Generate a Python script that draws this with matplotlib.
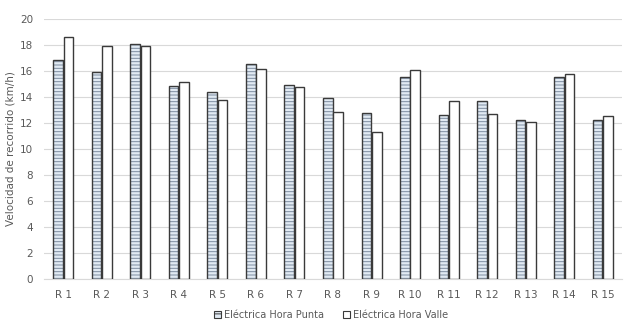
import numpy as np
import matplotlib
matplotlib.use("Agg")
import matplotlib.pyplot as plt
from matplotlib.patches import Patch

routes = ["R 1", "R 2", "R 3", "R 4", "R 5", "R 6", "R 7", "R 8",
          "R 9", "R 10", "R 11", "R 12", "R 13", "R 14", "R 15"]
punta = [16.85, 15.95, 18.05, 14.82, 14.36, 16.54, 14.95, 13.95,
         12.77, 15.54, 12.64, 13.67, 12.2, 15.51, 12.2]
valle = [18.64, 17.9, 17.92, 15.15, 13.77, 16.18, 14.74, 12.82,
         11.33, 16.08, 13.72, 12.72, 12.05, 15.74, 12.51]
yticks = list(range(0, 21, 2))

text_color = "#595959"
edge_color = "#3a3a3a"
hatch_color = "#7d8ca0"
face_punta = "#e1eaf3"

plt.rcParams["hatch.linewidth"] = 0.7

fig = plt.figure(figsize=(6.38, 3.29), dpi=100)
ax = fig.add_axes([44 / 638, 1 - 279 / 329, 578 / 638, 260 / 329])

x = np.arange(len(routes))
w = 0.25
off = 0.135

# hatched fill first, then the dark outline on top
ax.bar(x - off, punta, w, color=face_punta, edgecolor=hatch_color,
       hatch="-----", linewidth=0, zorder=2)
ax.bar(x - off, punta, w, facecolor="none", edgecolor=edge_color,
       linewidth=1.0, zorder=3)
ax.bar(x + off, valle, w, color="white", edgecolor=edge_color,
       linewidth=1.0, zorder=3)

ax.set_xlim(-0.5, len(routes) - 0.5)
ax.set_ylim(0, 20)
ax.set_yticks(yticks)
ax.set_xticks(x)
ax.set_xticklabels(routes)
ax.tick_params(axis="both", length=0, labelsize=7.5, colors=text_color)
ax.tick_params(axis="x", pad=8)
ax.tick_params(axis="y", pad=8)
ax.grid(axis="y", color="#d9d9d9", linewidth=0.8, zorder=0)
ax.set_axisbelow(True)
for s in ["top", "right", "left"]:
    ax.spines[s].set_visible(False)
ax.spines["bottom"].set_color("#d9d9d9")

ax.set_ylabel("Velocidad de recorrido (km/h)", fontsize=7.5, color=text_color,
              labelpad=3)

handles = [
    Patch(facecolor=face_punta, edgecolor=edge_color, hatch="---", linewidth=0.8),
    Patch(facecolor="white", edgecolor=edge_color, linewidth=0.8),
]
fig.legend(handles, ["Eléctrica Hora Punta", "Eléctrica Hora Valle"],
           loc="center", bbox_to_anchor=(331 / 638, 1 - 315 / 329), ncol=2,
           frameon=False, fontsize=7, labelcolor=text_color,
           handlelength=0.7, handleheight=0.7, handletextpad=0.3,
           columnspacing=2.0)

fig.savefig("out.png", dpi=100)
